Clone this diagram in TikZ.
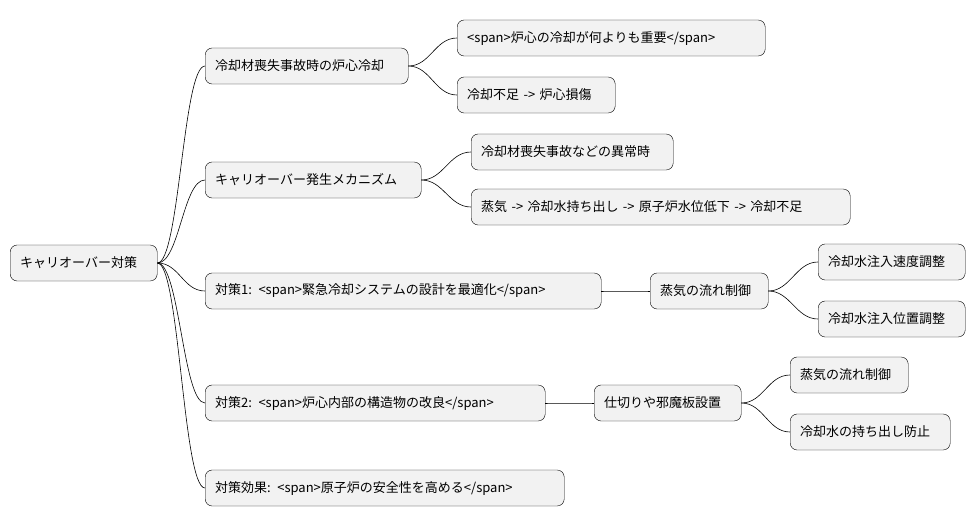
\documentclass[tikz,border=0pt]{standalone}
\usepackage{fontspec}
\setmainfont{Noto Sans CJK JP}
\begin{document}
\begin{tikzpicture}[x=1pt,y=-1pt,
    idea/.style={draw,fill=black!5,rounded corners=7pt,minimum height=36pt,
        inner xsep=10pt,anchor=west,align=left,font=\fontsize{13}{15}\selectfont},
    link/.style={draw,line width=0.6pt}]
  \useasboundingbox (0,0) rectangle (975,527);
  % root
  \node[idea,text width=127pt] (root) at (10,263) {キャリオーバー対策};
  % first level
  \node[idea,text width=183pt] (cool) at (205,66) {冷却材喪失事故時の炉心冷却};
  \node[idea,text width=196pt] (mech) at (205,180) {キャリオーバー発生メカニズム};
  \node[idea,text width=376pt] (mea1) at (205,291) {対策1: <span>緊急冷却システムの設計を最適化</span>};
  \node[idea,text width=320pt] (mea2) at (205,403) {対策2: <span>炉心内部の構造物の改良</span>};
  \node[idea,text width=339pt] (eff) at (205,488) {対策効果: <span>原子炉の安全性を高める</span>};
  % second level
  \node[idea,text width=288pt] (coolA) at (457,38) {<span>炉心の冷却が何よりも重要</span>};
  \node[idea,text width=138pt] (coolB) at (457,95) {冷却不足 -> 炉心損傷};
  \node[idea,text width=182pt] (mechA) at (471,152) {冷却材喪失事故などの異常時};
  \node[idea,text width=359pt] (mechB) at (471,207) {蒸気 -> 冷却水持ち出し -> 原子炉水位低下 -> 冷却不足};
  \node[idea,text width=98pt] (flow) at (650,291) {蒸気の流れ制御};
  \node[idea,text width=127pt] (wall) at (594,403) {仕切りや邪魔板設置};
  % third level
  \node[idea,text width=127pt] (speed) at (818,262) {冷却水注入速度調整};
  \node[idea,text width=127pt] (pos) at (818,319) {冷却水注入位置調整};
  \node[idea,text width=98pt] (flow2) at (790,375) {蒸気の流れ制御};
  \node[idea,text width=140pt] (keep) at (790,432) {冷却水の持ち出し防止};
  % connectors
  \foreach \p/\c in {root/cool,root/mech,root/mea1,root/mea2,root/eff,
      cool/coolA,cool/coolB,mech/mechA,mech/mechB,mea1/flow,mea2/wall,
      flow/speed,flow/pos,wall/flow2,wall/keep}
    \path[link] (\p.east) .. controls +(22,0) and +(-22,0) .. (\c.west);
\end{tikzpicture}
\end{document}
